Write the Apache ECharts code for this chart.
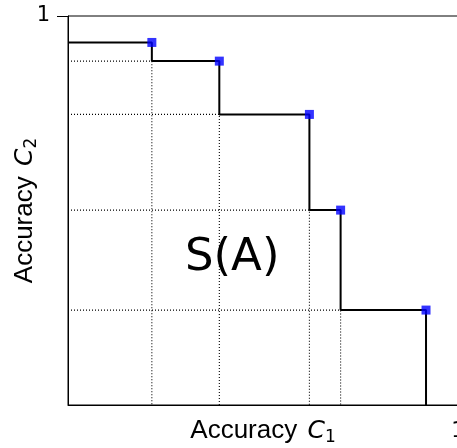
<!DOCTYPE html>
<html>
<head>
<meta charset="utf-8">
<style>
  html, body { margin: 0; padding: 0; background: #fff; }
  #chart { width: 457px; height: 448px; }
</style>
<script src="https://cdn.jsdelivr.net/npm/echarts@6/dist/echarts.min.js"></script>
</head>
<body>
<div id="chart"></div>
<script>
// Pareto front points: accuracy on C1 (x) and accuracy on C2 (y)
const accuracyC1 = [0.215, 0.388, 0.619, 0.699, 0.918];
const accuracyC2 = [0.932, 0.884, 0.747, 0.501, 0.244];
const tickValues = [1];
const regionLabel = 'S(A)';

// Staircase outline of the dominated region S(A)
const stairs = [[0, accuracyC2[0]]];
for (let i = 0; i < accuracyC1.length; i++) {
  stairs.push([accuracyC1[i], accuracyC2[i]]);
  const nextY = i + 1 < accuracyC2.length ? accuracyC2[i + 1] : 0;
  stairs.push([accuracyC1[i], nextY]);
}

// Dotted guides from each inner corner back to both axes
const guideSeries = [];
for (let i = 0; i + 1 < accuracyC1.length; i++) {
  const x = accuracyC1[i], y = accuracyC2[i + 1];
  guideSeries.push({
    type: 'line', silent: true, symbol: 'none', z: 1,
    lineStyle: { color: '#000', width: 1.1, type: [1, 2] },
    data: [[0, y], [x, y], [x, 0]]
  });
}

const sans = 'Liberation Sans, Arial, sans-serif';
const math = 'DejaVu Sans';
const nameRich = {
  a: { fontFamily: sans, fontSize: 26, lineHeight: 30, color: '#000' },
  c: { fontFamily: math, fontStyle: 'italic', fontSize: 25, lineHeight: 30, color: '#000', padding: [0, 0, 0, 3] },
  s: { fontFamily: math, fontSize: 17, lineHeight: 30, verticalAlign: 'bottom', color: '#000' }
};

const chart = echarts.init(document.getElementById('chart'), null, { renderer: 'canvas' });
chart.setOption({
  animation: false,
  backgroundColor: '#fff',
  grid: {
    left: 68, top: 16, width: 390, height: 389,
    containLabel: false, outerBoundsMode: 'none',
    show: true, borderColor: '#000', borderWidth: 1, backgroundColor: 'transparent'
  },
  xAxis: {
    type: 'value', min: 0, max: 1, interval: 1,
    name: '{a|Accuracy }{c|C}{s|1}',
    nameLocation: 'middle', nameGap: 11, nameMoveOverlap: false,
    nameTextStyle: { rich: nameRich },
    axisLine: { show: true, lineStyle: { color: '#000', width: 1 } },
    axisTick: { show: true, customValues: tickValues, length: 11, lineStyle: { color: '#000' } },
    axisLabel: { customValues: tickValues, margin: 16, fontFamily: math, fontSize: 21, color: '#000' },
    splitLine: { show: false }
  },
  yAxis: {
    type: 'value', min: 0, max: 1, interval: 1,
    name: '{a|Accuracy }{c|C}{s|2}',
    nameLocation: 'middle', nameGap: 28, nameRotate: 90, nameMoveOverlap: false,
    nameTextStyle: { rich: nameRich },
    axisLine: { show: true, lineStyle: { color: '#000', width: 1 } },
    axisTick: { show: true, customValues: tickValues, length: 11, lineStyle: { color: '#000' } },
    axisLabel: { customValues: tickValues, margin: 18, fontFamily: math, fontSize: 21, color: '#000',
                 verticalAlign: 'middle', padding: [6, 0, 0, 0] },
    splitLine: { show: false }
  },
  graphic: [{
    type: 'text', left: 185, top: 236, z: 10,
    style: { text: regionLabel, font: '45px "DejaVu Sans"', fill: '#000' }
  }],
  series: guideSeries.concat([
    {
      type: 'line', symbol: 'none', z: 3,
      lineStyle: { color: '#000', width: 2 },
      data: stairs
    },
    {
      type: 'scatter', symbol: 'rect', symbolSize: 9, z: 5,
      itemStyle: { color: '#0000ff' },
      data: accuracyC1.map((x, i) => [x, accuracyC2[i]])
    }
  ])
});
</script>
</body>
</html>
